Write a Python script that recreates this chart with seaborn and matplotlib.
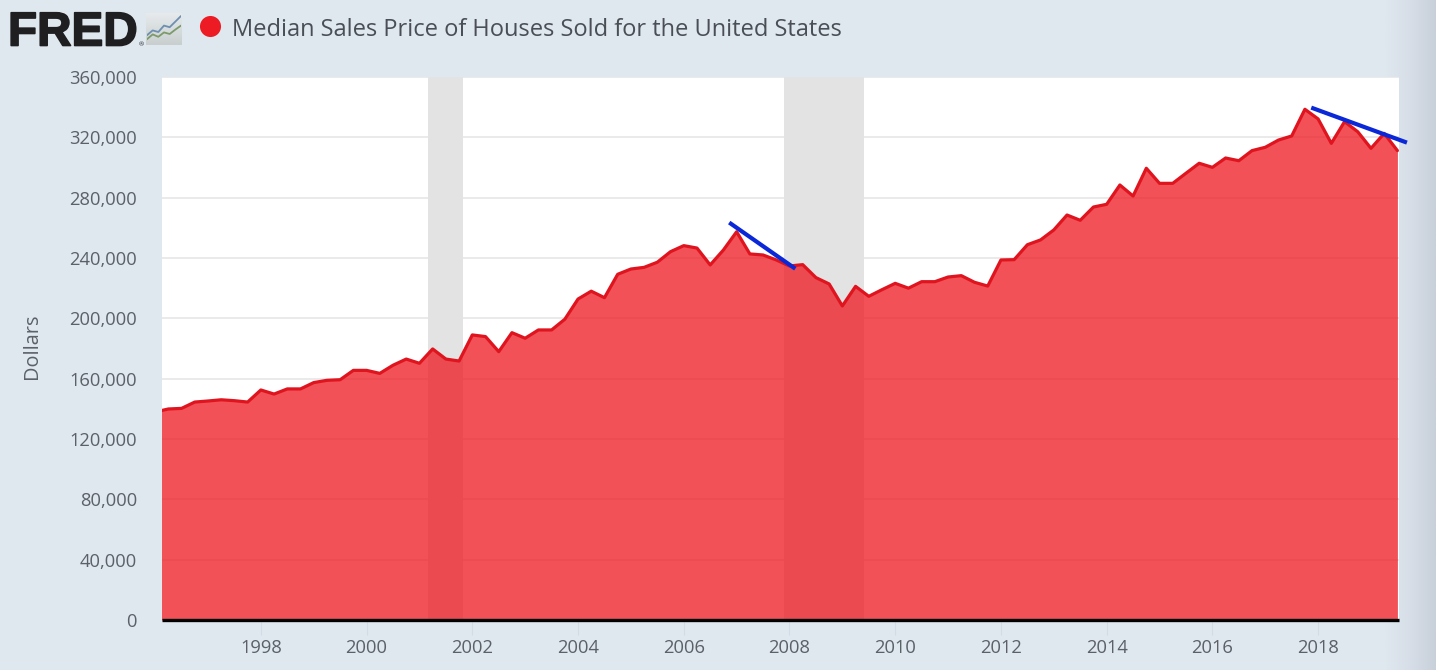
import matplotlib
matplotlib.use('Agg')
import matplotlib.pyplot as plt
import matplotlib.patheffects as pe
from matplotlib.colors import LinearSegmentedColormap
import seaborn as sns
import numpy as np
import pandas as pd

# quarterly medians, first point is 1996 Q1
start_year = 1996.0
prices = [
    137900, 139900, 140300, 144500, 145200, 146000, 145400, 144500,
    152500, 149800, 153200, 153200, 157400, 158900, 159300, 165500,
    165500, 163500, 168900, 173000, 170200, 179700, 173000, 171700,
    189000, 187900, 177900, 190500, 186800, 192300, 192300, 199400,
    212800, 218000, 213700, 229200, 232700, 233800, 237200, 244200,
    248200, 246600, 235400, 245300, 257400, 242700, 242000, 238700,
    234700, 235600, 227000, 222800, 208200, 221200, 214600, 219000,
    223200, 220000, 224300, 224300, 227400, 228300, 223900, 221400,
    238700, 238900, 248800, 252000, 258600, 268500, 265000, 273800,
    275600, 288400, 281100, 299500, 289500, 289500, 296200, 302800,
    300100, 306300, 304500, 311200, 313400, 318200, 320900, 338600,
    332200, 316000, 330400, 323700, 312700, 322600, 311200,
]
recessions = [(2001.17, 2001.83), (2007.90, 2009.41)]
trend_years = [(2006.86, 2008.11), (2017.87, 2019.68)]
trend_values = [(263500, 232900), (339700, 316500)]
y_ticks = list(range(0, 360001, 40000))
x_ticks = list(range(1998, 2019, 2))
title = 'Median Sales Price of Houses Sold for the United States'

# logo sparklines
logo_x = [0, 1, 2, 3, 4, 5, 6]
logo_blue = [2.2, 3.4, 3.0, 4.6, 4.2, 5.6, 7.0]
logo_green = [1.2, 2.4, 1.8, 2.9, 2.5, 3.6, 4.6]

BG = '#dfe7ef'
TEXT = '#5c6168'
RED = '#ed1c24'

sns.set_theme(style='whitegrid')
plt.rcParams['font.family'] = ['Open Sans', 'DejaVu Sans']

df = pd.DataFrame({
    'year': [start_year + i * 0.25 for i in range(len(prices))],
    'price': prices,
})

W, H = 1436, 670
fig = plt.figure(figsize=(W / 100, H / 100), dpi=100, facecolor=BG)
ax = fig.add_axes([162 / W, 1 - 620 / H, (1399 - 162) / W, (620 - 77) / H])

ax.set_xlim(1996.13, 2019.53)
ax.set_ylim(0, 360000)
ax.set_axisbelow(True)
ax.grid(axis='y', color='#e6e6e6', linewidth=1.2)
ax.grid(axis='x', visible=False)

for begin, end in recessions:
    ax.axvspan(begin, end, color='#e3e3e3', linewidth=0, zorder=1.5)

ax.fill_between(df['year'], df['price'], color=RED, alpha=0.77, linewidth=0, zorder=2)
sns.lineplot(data=df, x='year', y='price', color='#e0141e', linewidth=2.3, ax=ax, zorder=3)

for xs, ys in zip(trend_years, trend_values):
    ax.plot(xs, ys, color='#0a28d8', linewidth=3, clip_on=False, zorder=5,
            solid_capstyle='butt')

ax.set_xlabel('')
ax.set_ylabel('Dollars', fontsize=14.3, color=TEXT)
ax.yaxis.set_label_coords(-0.097, 0.505)
ax.set_yticks(y_ticks)
ax.set_yticklabels([f'{v:,}' for v in y_ticks])
ax.set_xticks(x_ticks)
ax.tick_params(axis='y', length=0, pad=25 * 0.72, labelsize=13.2, labelcolor=TEXT)
ax.tick_params(axis='x', length=11, width=0.8, color='#d3dbe6', pad=3, labelsize=13.2,
               labelcolor=TEXT, bottom=True)

for side in ['top', 'left', 'right']:
    ax.spines[side].set_visible(False)
ax.spines['bottom'].set_color('black')
ax.spines['bottom'].set_linewidth(2.4)
ax.spines['bottom'].set_capstyle('butt')
ax.spines['bottom'].set_zorder(6)

# right hand shading behind everything
over = fig.add_axes([0, 0, 1, 1], zorder=-1)
over.axis('off')
edge_cmap = LinearSegmentedColormap.from_list('edge', [BG, '#d7dee7', '#c8d0d9'])
over.imshow(np.linspace(0, 1, 50).reshape(1, -1), cmap=edge_cmap,
            extent=(1385, 1436, H, 0), aspect='auto')
over.set_xlim(0, W)
over.set_ylim(H, 0)

# header and logo in pixel coordinates
top = fig.add_axes([0, 0, 1, 1], zorder=10)
top.axis('off')
top.patch.set_alpha(0)
box_cmap = LinearSegmentedColormap.from_list('box', ['#e6eaec', '#c9cfcf'])
top.imshow(np.linspace(0, 1, 30).reshape(-1, 1), cmap=box_cmap,
           extent=(146, 182, 45, 13), aspect='auto')
top.set_xlim(0, W)
top.set_ylim(H, 0)
top.text(8, 45.5, 'FRED', family='Liberation Sans', fontweight='bold', fontsize=34.3,
         color='#1f1f21', va='baseline', ha='left',
         path_effects=[pe.withStroke(linewidth=1.2, foreground='#1f1f21')])
top.text(139, 46, '®', fontsize=4.5, color='#1f1f21', va='baseline')
top.scatter([210], [26], s=230, color=RED, linewidth=0)
top.text(232, 30, title, fontsize=17, color='#4a4e55', va='center', ha='left', fontweight='medium')

logo = fig.add_axes([147 / W, 1 - 44 / H, 34 / W, 30 / H], zorder=11)
logo.patch.set_alpha(0)
sns.lineplot(x=logo_x, y=logo_blue, color='#6e8fb0', linewidth=1.3, ax=logo)
sns.lineplot(x=logo_x, y=logo_green, color='#7d9a6a', linewidth=1.3, ax=logo)
logo.set_xlim(0, 6)
logo.set_ylim(0, 7.5)
logo.axis('off')

fig.savefig('out.png', dpi=100, facecolor=BG)
